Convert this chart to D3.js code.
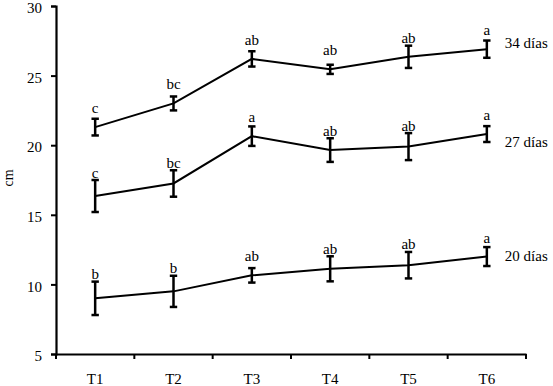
<!DOCTYPE html>
<html>
<head>
<meta charset="utf-8">
<script src="https://cdn.jsdelivr.net/npm/d3@7"></script>
<style>
body { margin: 0; background: #fff; }
svg text { font-family: "Liberation Serif", "Times New Roman", serif; fill: #000; }
</style>
</head>
<body>
<div id="chart"></div>
<script>
// data
var treatments = ["T1", "T2", "T3", "T4", "T5", "T6"];
var seriesNames = ["34 días", "27 días", "20 días"];
var labelAt = [26.95, 19.9, 11.65]; // value where each series name sits

var mean34 = [21.3, 23.0, 26.2, 25.45, 26.35, 26.9];
var err34 = [0.6, 0.5, 0.55, 0.33, 0.8, 0.62];
var let34 = ["c", "bc", "ab", "ab", "ab", "a"];

var mean27 = [16.35, 17.25, 20.65, 19.65, 19.9, 20.8];
var err27 = [1.15, 0.95, 0.7, 0.85, 0.97, 0.57];
var let27 = ["c", "bc", "a", "ab", "ab", "a"];

var mean20 = [9.0, 9.5, 10.65, 11.12, 11.38, 12.0];
var err20 = [1.2, 1.12, 0.52, 0.9, 0.95, 0.68];
var let20 = ["b", "b", "ab", "ab", "ab", "a"];

var yTicks = [5, 10, 15, 20, 25, 30];

var W = 553, H = 386;
var margin = {top: 6, right: 27, bottom: 32, left: 56};
var width = W - margin.left - margin.right,
    height = H - margin.top - margin.bottom;

var svg = d3.select("#chart").append("svg").attr("width", W).attr("height", H)
  .append("g").attr("transform", "translate(" + margin.left + "," + margin.top + ")");

var x = d3.scaleBand().domain(treatments).range([0, width]).padding(0);
var y = d3.scaleLinear().domain([5, 30]).range([height, 0]);

// axes
var yAxis = svg.append("g").call(d3.axisLeft(y).tickValues(yTicks).tickSize(5).tickSizeOuter(5).tickPadding(9));
var xAxis = svg.append("g").attr("transform", "translate(0," + height + ")")
  .call(d3.axisBottom(x).tickSize(0).tickPadding(19));

// tick marks between categories on the x axis
var edges = treatments.map(function(t) { return x(t); }).concat([width]);
xAxis.selectAll(".edge").data(edges).enter().append("line")
  .attr("class", "edge")
  .attr("x1", function(d) { return d; }).attr("x2", function(d) { return d; })
  .attr("y1", 0).attr("y2", 5)
  .attr("stroke", "#000").attr("stroke-width", 2);

svg.selectAll(".domain").attr("stroke", "#000").attr("stroke-width", 2.2);
yAxis.selectAll(".tick line").attr("stroke", "#000").attr("stroke-width", 2);
svg.selectAll(".tick text").style("font-size", "15px").style("font-family", "Liberation Serif");
yAxis.selectAll(".tick text").attr("dy", "0.45em");

svg.append("text").attr("transform", "rotate(-90)")
  .attr("x", -172).attr("y", -43)
  .style("text-anchor", "middle").style("font-size", "14px").text("cm");

var series = [
  {name: seriesNames[0], mean: mean34, err: err34, lett: let34, at: labelAt[0]},
  {name: seriesNames[1], mean: mean27, err: err27, lett: let27, at: labelAt[1]},
  {name: seriesNames[2], mean: mean20, err: err20, lett: let20, at: labelAt[2]}
];

var cx = function(i) { return x(treatments[i]) + x.bandwidth() / 2; };

var line = d3.line()
  .x(function(d, i) { return cx(i); })
  .y(function(d) { return y(d); });

series.forEach(function(s) {
  var g = svg.append("g");

  g.append("path").datum(s.mean)
    .attr("d", line).attr("fill", "none")
    .attr("stroke", "#000").attr("stroke-width", 2);

  var pts = s.mean.map(function(m, i) { return {m: m, e: s.err[i], l: s.lett[i], i: i}; });

  // error bars
  var eb = g.selectAll(".eb").data(pts).enter().append("g").attr("class", "eb");
  eb.append("line")
    .attr("x1", function(d) { return cx(d.i); }).attr("x2", function(d) { return cx(d.i); })
    .attr("y1", function(d) { return y(d.m + d.e); })
    .attr("y2", function(d) { return y(d.m - d.e); })
    .attr("stroke", "#000").attr("stroke-width", 2.5);
  eb.append("line")
    .attr("x1", function(d) { return cx(d.i) - 3.7; }).attr("x2", function(d) { return cx(d.i) + 3.7; })
    .attr("y1", function(d) { return y(d.m + d.e); }).attr("y2", function(d) { return y(d.m + d.e); })
    .attr("stroke", "#000").attr("stroke-width", 2.5);
  eb.append("line")
    .attr("x1", function(d) { return cx(d.i) - 3.7; }).attr("x2", function(d) { return cx(d.i) + 3.7; })
    .attr("y1", function(d) { return y(d.m - d.e); }).attr("y2", function(d) { return y(d.m - d.e); })
    .attr("stroke", "#000").attr("stroke-width", 2.5);

  // significance letters: above the mean, or above the error bar when it is tall
  g.selectAll(".lt").data(pts).enter().append("text")
    .attr("x", function(d) { return cx(d.i); })
    .attr("y", function(d) { return Math.min(y(d.m) - 14, y(d.m + d.e) - 2.5); })
    .style("text-anchor", "middle").style("font-size", "15px")
    .text(function(d) { return d.l; });

  // series label
  g.append("text")
    .attr("x", cx(5) + 18)
    .attr("y", y(s.at))
    .style("font-size", "15px")
    .text(s.name);
});
</script>
</body>
</html>
